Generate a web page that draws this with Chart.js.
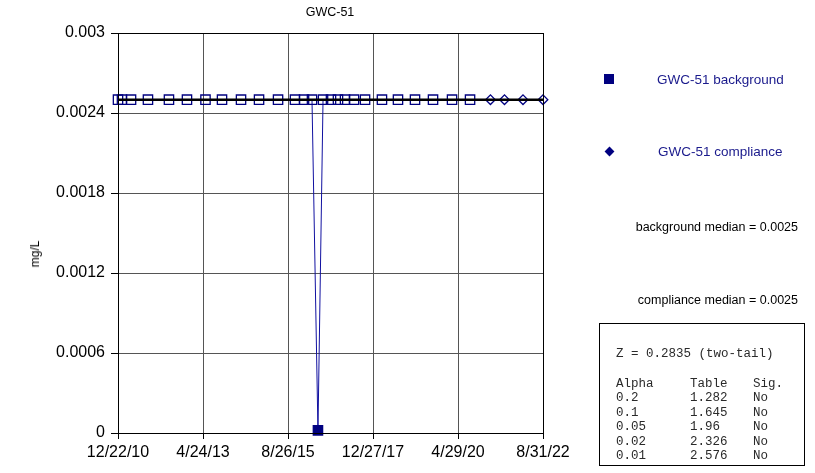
<!DOCTYPE html>
<html>
<head>
<meta charset="utf-8">
<script src="https://cdn.jsdelivr.net/npm/chart.js@4.4.1/dist/chart.umd.min.js"></script>
<style>
  body { margin: 0; background: #fff; }
  #wrap { position: relative; width: 815px; height: 473px; font-family: "Liberation Sans", Arial, sans-serif; }
  #chart { position: absolute; left: 0; top: 0; }
  .txt { position: absolute; white-space: nowrap; line-height: 1; }
  .legtxt { color: #1a1a8c; font-size: 13.5px; }
  .med { font-size: 12.5px; color: #000; }
  #stats { position: absolute; left: 599px; top: 323px; width: 206px; height: 143px; border: 1px solid #000; box-sizing: border-box; }
  .mono { position: absolute; font-family: "Liberation Mono", "Courier New", monospace; font-size: 12.5px; color: #2a2a2a; white-space: nowrap; line-height: 1; }
</style>
</head>
<body>
<div id="wrap">
  <canvas id="chart" width="815" height="473"></canvas>
  <div class="txt" id="title" style="left:330px;top:6px;transform:translateX(-50%);font-size:12.5px;">GWC-51</div>
  <div class="txt" style="left:35px;top:254px;transform:translate(-50%,-50%) rotate(-90deg);font-size:12px;">mg/L</div>

  <div style="position:absolute;left:604px;top:74px;width:10px;height:10px;background:#000080;"></div>
  <div class="txt legtxt" style="left:657px;top:73px;">GWC-51 background</div>
  <div style="position:absolute;left:606px;top:148px;width:7px;height:7px;background:#000080;transform:rotate(45deg);"></div>
  <div class="txt legtxt" style="left:658px;top:145px;">GWC-51 compliance</div>

  <div class="txt med" style="right:17px;top:221px;">background median = 0.0025</div>
  <div class="txt med" style="right:17px;top:294px;">compliance median = 0.0025</div>

  <div id="stats"></div>
</div>
<script>
// background well samples
const bgDates = ['2010-12-22','2011-01-31','2011-05-02','2011-10-19','2012-05-17','2012-11-14',
  '2013-05-19','2013-11-01','2014-05-11','2014-11-08','2015-05-18','2015-11-04','2016-02-03',
  '2016-04-23','2016-06-22','2016-08-12','2016-10-31','2017-01-09','2017-03-21','2017-06-19',
  '2017-10-08','2018-03-27','2018-09-04','2019-02-22','2019-08-22','2020-02-29','2020-08-28'];
const bgValues = [0.0025,0.0025,0.0025,0.0025,0.0025,0.0025,0.0025,0.0025,0.0025,0.0025,
  0.0025,0.0025,0.0025,0.0025,0.00002,0.0025,0.0025,0.0025,0.0025,0.0025,
  0.0025,0.0025,0.0025,0.0025,0.0025,0.0025,0.0025];

// compliance samples
const compDates = ['2021-03-21','2021-08-09','2022-02-11','2022-08-31'];
const compValues = [0.0025,0.0025,0.0025,0.0025];

const bgMedian = 0.0025;
const reportingLimit = 0.0025;

// axis ticks
const xTickDates = ['2010-12-22','2013-04-24','2015-08-26','2017-12-27','2020-04-29','2022-08-31'];
const xTickLabels = ['12/22/10','4/24/13','8/26/15','12/27/17','4/29/20','8/31/22'];
const yTicks = [0, 0.0006, 0.0012, 0.0018, 0.0024, 0.003];

// stats table
const zText = 'Z = 0.2835 (two-tail)';
const alphas = ['0.2','0.1','0.05','0.02','0.01'];
const tableVals = ['1.282','1.645','1.96','2.326','2.576'];
const sigVals = ['No','No','No','No','No'];

const toMs = d => Date.parse(d + 'T00:00:00Z');
const navy = '#000080';
const lineBlue = '#1010a0';

// build stats box text
const stats = document.getElementById('stats');
function monoText(str, x, y) {
  const el = document.createElement('div');
  el.className = 'mono';
  el.style.left = x + 'px';
  el.style.top = y + 'px';
  el.textContent = str;
  stats.appendChild(el);
}
monoText(zText, 16, 24);
monoText('Alpha', 16, 54);
monoText('Table', 90, 54);
monoText('Sig.', 153, 54);
alphas.forEach((a, i) => {
  const y = 68 + i * 14.5;
  monoText(a, 16, y);
  monoText(tableVals[i], 90, y);
  monoText(sigVals[i], 153, y);
});

const xMin = toMs(xTickDates[0]);
const xMax = toMs(xTickDates[xTickDates.length - 1]);

const frame = {
  id: 'frame',
  afterDraw(chart) {
    const { ctx, chartArea: a } = chart;
    ctx.save();
    ctx.strokeStyle = '#000';
    ctx.lineWidth = 1;
    ctx.strokeRect(a.left + 0.5, a.top + 0.5, a.right - a.left, a.bottom - a.top);
    ctx.restore();
  }
};

Chart.defaults.font.family = '"Liberation Sans", Arial, sans-serif';
Chart.defaults.color = '#000';

new Chart(document.getElementById('chart'), {
  type: 'line',
  data: {
    datasets: [
      {
        label: 'median',
        data: [{ x: xMin, y: bgMedian }, { x: xMax, y: bgMedian }],
        borderColor: '#000',
        borderWidth: 2.5,
        pointRadius: 0,
        order: 0
      },
      {
        label: 'GWC-51 background',
        data: bgDates.map((d, i) => ({ x: toMs(d), y: bgValues[i] })),
        borderColor: lineBlue,
        borderWidth: 1,
        pointStyle: 'rect',
        pointRadius: 6.6,
        pointBorderWidth: 1.3,
        pointBorderColor: navy,
        pointBackgroundColor: ctx => (ctx.raw && ctx.raw.y < reportingLimit) ? navy : 'rgba(0,0,0,0)',
        clip: false,
        order: 1
      },
      {
        label: 'GWC-51 compliance',
        data: compDates.map((d, i) => ({ x: toMs(d), y: compValues[i] })),
        borderColor: lineBlue,
        borderWidth: 1,
        pointStyle: 'rectRot',
        pointRadius: 4.8,
        pointBorderWidth: 1.3,
        pointBorderColor: navy,
        pointBackgroundColor: 'rgba(0,0,0,0)',
        clip: false,
        order: 1
      }
    ]
  },
  options: {
    responsive: false,
    animation: false,
    devicePixelRatio: 1,
    layout: { padding: { left: 0, right: 272, top: 33, bottom: 0 } },
    plugins: { legend: { display: false }, title: { display: false }, tooltip: { enabled: false } },
    scales: {
      x: {
        type: 'linear',
        min: xMin,
        max: xMax,
        afterBuildTicks: axis => { axis.ticks = xTickDates.map(d => ({ value: toMs(d) })); },
        afterFit: axis => { axis.height = 40; },
        ticks: {
          autoSkip: false,
          maxRotation: 0,
          padding: 4,
          font: { size: 16 },
          callback: (v, i) => xTickLabels[i]
        },
        grid: { color: '#555', tickColor: '#000', tickLength: 6 },
        border: { color: '#000', width: 1 }
      },
      y: {
        min: 0,
        max: 0.003,
        afterBuildTicks: axis => { axis.ticks = yTicks.map(v => ({ value: v })); },
        afterFit: axis => { axis.width = 118; },
        ticks: {
          padding: 6,
          font: { size: 16 },
          callback: v => String(v)
        },
        grid: { color: '#555', tickColor: '#000', tickLength: 7 },
        border: { color: '#000', width: 1 }
      }
    }
  },
  plugins: [frame]
});
</script>
</body>
</html>
